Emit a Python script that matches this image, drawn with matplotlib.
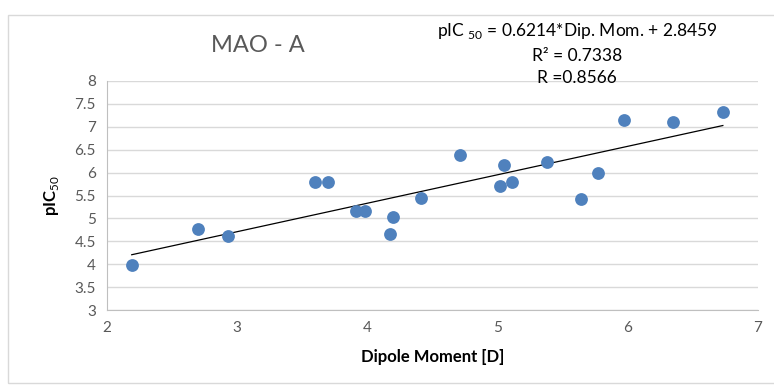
import numpy as np
import matplotlib.pyplot as plt
from matplotlib.patches import Rectangle

plt.rcParams['font.family'] = ['Lato', 'DejaVu Sans']
plt.rcParams['mathtext.fontset'] = 'custom'
plt.rcParams['mathtext.rm'] = 'Lato'

# data
dipole = [2.19, 2.70, 2.93, 3.60, 3.70, 3.91, 3.98, 4.17, 4.20, 4.41,
          4.71, 5.05, 5.02, 5.11, 5.38, 5.64, 5.77, 5.97, 6.35, 6.73]
pic50 = [3.98, 4.77, 4.62, 5.80, 5.80, 5.17, 5.17, 4.65, 5.03, 5.45,
         6.38, 6.16, 5.71, 5.80, 6.24, 5.43, 6.00, 7.15, 7.11, 7.33]
slope = 0.6214
intercept = 2.8459

fig = plt.figure(figsize=(7.74, 3.85), dpi=100)
fig.patches.append(Rectangle((8 / 774, 0.005), 0.995, 1 - 15 / 385 - 0.005,
                             transform=fig.transFigure, fill=False,
                             edgecolor='#d9d9d9', linewidth=1))

ax = fig.add_axes([107 / 774, 1 - 310 / 385, 651 / 774, 229 / 385])

ax.scatter(dipole, pic50, s=85, color='#4f81bd', zorder=3, linewidths=0)

xs = np.array([min(dipole), max(dipole)])
ax.plot(xs, slope * xs + intercept, color='black', linewidth=0.9, zorder=2)

ax.set_xlim(2, 7)
ax.set_ylim(3, 8)
ax.set_xticks([2, 3, 4, 5, 6, 7])
ax.set_yticks(np.arange(3, 8.01, 0.5))
ax.set_yticklabels(['3', '3.5', '4', '4.5', '5', '5.5', '6', '6.5', '7', '7.5', '8'])
ax.grid(axis='y', color='#d9d9d9', linewidth=1)
ax.set_axisbelow(True)
ax.tick_params(length=0, labelsize=11, colors='#595959', pad=8)
for side in ['top', 'right']:
    ax.spines[side].set_visible(False)
for side in ['left', 'bottom']:
    ax.spines[side].set_color('#bfbfbf')

ax.set_xlabel('Dipole Moment [D]', fontsize=12, fontweight='bold', labelpad=10)
ax.set_ylabel('pIC$_{50}$', fontsize=12, fontweight='bold', labelpad=10)

fig.text(258 / 774, 1 - 45 / 385, 'MAO - A', fontsize=17, color='#595959',
         ha='center', va='center')
fig.text(577 / 774, 1 - 31 / 385, 'pIC $_{50}$ = 0.6214*Dip. Mom. + 2.8459',
         fontsize=12.5, ha='center', va='center')
fig.text(577 / 774, 1 - 56 / 385, 'R² = 0.7338', fontsize=12.5,
         ha='center', va='center')
fig.text(577 / 774, 1 - 78 / 385, 'R =0.8566', fontsize=12.5,
         ha='center', va='center')

fig.savefig('out.png', dpi=100)
